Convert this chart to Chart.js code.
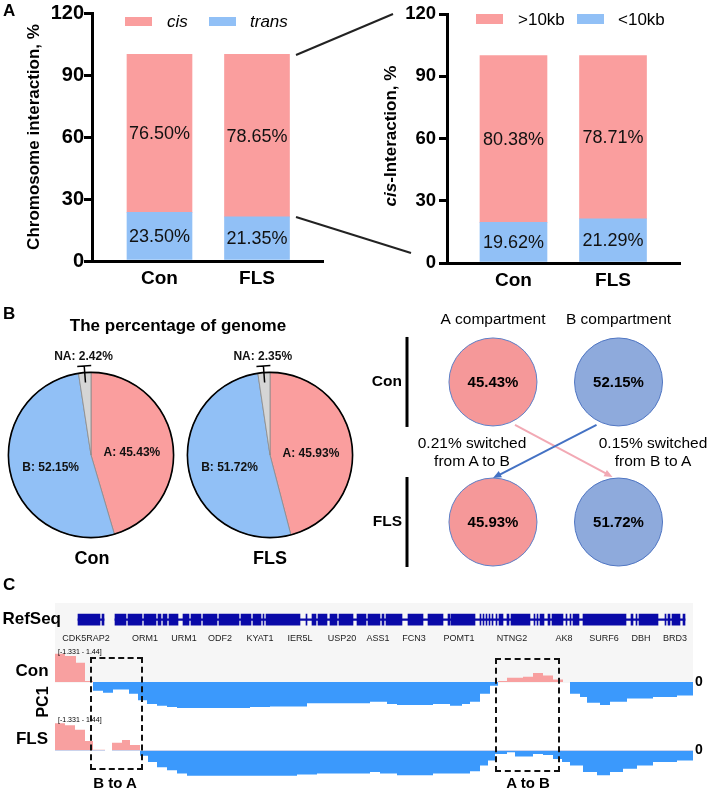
<!DOCTYPE html>
<html>
<head>
<meta charset="utf-8">
<script src="https://cdn.jsdelivr.net/npm/chart.js@4.4.0/dist/chart.umd.min.js"></script>
<style>
  body { margin: 0; background: #fff; }
  #fig { position: relative; width: 708px; height: 789px; overflow: hidden; font-family: 'Liberation Sans', Arial, sans-serif; color: #000; }
  #fig canvas { position: absolute; }
  .txt { position: absolute; white-space: nowrap; line-height: 1; }
  .c { transform: translate(-50%, -50%); }
  .rot { transform: translate(-50%, -50%) rotate(-90deg); }
  .b { font-weight: bold; }
  .sw { position: absolute; }
  .box { position: absolute; border: 2px dashed #111; box-sizing: border-box; }
  #trackBg { position: absolute; left: 55px; top: 603px; width: 638px; height: 80px; background: #f6f6f6; }
  #zoomLines { position: absolute; left: 0; top: 0; pointer-events: none; }
</style>
</head>
<body>
<div id="fig">
  <div id="trackBg"></div>

  <canvas id="barLeft" width="340" height="290" style="left:0px;top:0px"></canvas>
  <canvas id="barRight" width="368" height="290" style="left:340px;top:0px"></canvas>
  <canvas id="pieCon" width="170" height="200" style="left:6px;top:340px"></canvas>
  <canvas id="pieFls" width="170" height="200" style="left:185px;top:340px"></canvas>
  <canvas id="compartments" width="400" height="342" style="left:360px;top:284px"></canvas>
  <canvas id="genes" width="708" height="50" style="left:0px;top:600px"></canvas>
  <canvas id="pcCon" width="708" height="80" style="left:0px;top:640px"></canvas>
  <canvas id="pcFls" width="708" height="81" style="left:0px;top:708px"></canvas>

  <svg id="zoomLines" width="708" height="789">
    <line x1="296" y1="55" x2="393" y2="14" stroke="#222" stroke-width="2"/>
    <line x1="296" y1="217" x2="411" y2="253" stroke="#222" stroke-width="2"/>
  </svg>

  <!-- Panel A -->
  <div class="txt b" style="left:3px;top:2px;font-size:17px">A</div>
  <div class="sw" style="left:125px;top:17px;width:27px;height:9px;background:#FA9E9E"></div>
  <div class="txt" style="left:167px;top:13px;font-size:17px;font-style:italic">cis</div>
  <div class="sw" style="left:209px;top:17px;width:27px;height:9px;background:#91C0F6"></div>
  <div class="txt" style="left:250px;top:13px;font-size:17px;font-style:italic">trans</div>
  <div class="sw" style="left:476px;top:14px;width:27px;height:10px;background:#FA9E9E"></div>
  <div class="txt" style="left:518px;top:11px;font-size:17px">&gt;10kb</div>
  <div class="sw" style="left:577px;top:14px;width:27px;height:10px;background:#91C0F6"></div>
  <div class="txt" style="left:618px;top:11px;font-size:17px">&lt;10kb</div>
  <div class="txt b rot" style="left:390px;top:136px;font-size:17px"><i>cis</i>-Interaction, %</div>

  <!-- Panel B -->
  <div class="txt b" style="left:3px;top:305px;font-size:17px">B</div>
  <div class="txt b c" style="left:178px;top:325px;font-size:17px">The percentage of genome</div>
  <div class="txt b c" style="left:92px;top:558px;font-size:18px">Con</div>
  <div class="txt b c" style="left:270px;top:558px;font-size:18px">FLS</div>
  <div class="txt c" style="left:472px;top:443px;font-size:15.5px">0.21% switched</div>
  <div class="txt c" style="left:472px;top:461px;font-size:15.5px">from A to B</div>
  <div class="txt c" style="left:653px;top:443px;font-size:15.5px">0.15% switched</div>
  <div class="txt c" style="left:653px;top:461px;font-size:15.5px">from B to A</div>

  <!-- Panel C -->
  <div class="txt b" style="left:3px;top:576px;font-size:17px">C</div>
  <div class="txt b c" style="left:32px;top:670px;font-size:17px">Con</div>
  <div class="txt b c" style="left:32px;top:738px;font-size:17px">FLS</div>
  <div class="txt b rot" style="left:43px;top:702px;font-size:16px">PC1</div>
  <div class="txt" style="left:58px;top:648px;font-size:7px">[-1.331 - 1.44]</div>
  <div class="txt" style="left:58px;top:716px;font-size:7px">[-1.331 - 1.44]</div>
  <div class="box" style="left:90px;top:657px;width:53px;height:113px"></div>
  <div class="box" style="left:495px;top:658px;width:65px;height:114px"></div>
  <div class="txt b c" style="left:115px;top:782px;font-size:15px">B to A</div>
  <div class="txt b c" style="left:528px;top:782px;font-size:15px">A to B</div>
</div>

<script>
// Panel A
var groups = ["Con", "FLS"];
var cisPct = [76.50, 78.65];
var transPct = [23.50, 21.35];
var above10kbPct = [80.38, 78.71];
var below10kbPct = [19.62, 21.29];
var yTicksA = [0, 30, 60, 90, 120];

// Panel B
var pieNames = ["A", "B", "NA"];
var pieCon = [45.43, 52.15, 2.42];
var pieFls = [45.93, 51.72, 2.35];
var compColumns = ["A compartment", "B compartment"];
var compRows = ["Con", "FLS"];
var compA = [45.43, 45.93];
var compB = [52.15, 51.72];

// Panel C: PC1 bins (start of bin, value), last entry closes the track
var conPos = [0, 10, 21, 30, 38, 48, 58, 74, 83, 92, 102, 112, 122, 195, 215, 252, 315, 332, 342, 378, 395, 407, 415, 425, 435, 443, 452, 468, 478, 488, 498, 508, 515, 525, 532, 545, 555, 572, 598, 622, 638];
var conPC1 = [1.36, 1.25, 0.92, 0.04, -0.42, -0.52, -0.37, -0.57, -0.88, -1.06, -1.15, -1.21, -1.26, -1.21, -1.18, -1.03, -0.95, -1.06, -1.11, -1.06, -1.15, -1.06, -0.95, -0.57, -0.18, 0.05, 0.20, 0.25, 0.43, 0.31, 0.12, 0, -0.57, -0.72, -1.00, -1.11, -0.95, -0.80, -0.72, -0.65, -0.65];
var flsPos = [0, 10, 20, 30, 38, 50, 57, 67, 75, 85, 93, 102, 112, 122, 132, 242, 262, 315, 325, 342, 378, 415, 425, 433, 440, 452, 460, 478, 488, 498, 507, 515, 528, 542, 555, 568, 582, 598, 622, 638];
var flsPC1 = [1.29, 1.19, 0.98, 0.45, 0.03, 0, 0.37, 0.49, 0.26, -0.25, -0.55, -0.79, -0.94, -1.09, -1.20, -1.14, -1.09, -1.02, -1.09, -1.17, -1.09, -0.98, -0.71, -0.48, -0.17, -0.09, -0.29, -0.17, -0.22, -0.40, -0.55, -0.71, -1.02, -1.17, -1.02, -0.86, -0.71, -0.55, -0.48, -0.48];
var pcRange = [-1.331, 1.44];

var geneNames = ["CDK5RAP2", "ORM1", "URM1", "ODF2", "KYAT1", "IER5L", "USP20", "ASS1", "FCN3", "POMT1", "NTNG2", "AK8", "SURF6", "DBH", "BRD3"];
var geneCenters = [31, 90, 129, 165, 205, 245, 287, 323, 359, 404, 457, 509, 549, 586, 620];
var refseqLines = [[23, 49], [60, 630]];
var refseqBlocks = [[23, 45], [47, 49], [60, 71], [73, 87], [89, 101], [103, 106], [108, 112], [114, 123], [128, 134], [136, 146],
  [148, 162], [164, 184], [186, 196], [198, 206], [208, 209], [211, 245], [251, 252], [257, 261], [263, 272], [275, 282],
  [284, 298], [302, 311], [313, 325], [327, 329], [331, 347], [353, 368], [373, 388], [393, 395], [396, 420], [425, 426],
  [428, 429], [431, 432], [434, 435], [437, 438], [441, 442], [444, 448], [452, 454], [456, 475], [479, 480], [482, 483],
  [485, 489], [493, 495], [497, 508], [511, 512], [515, 516], [518, 524], [528, 571], [576, 578], [581, 582], [584, 603],
  [610, 611], [613, 615], [617, 625], [628, 630]];

var pink = "#FA9E9E";
var blue = "#91C0F6";
var FONT = "'Liberation Sans', Arial, sans-serif";

Chart.defaults.font.family = FONT;
Chart.defaults.color = "#000";

window.addEventListener("DOMContentLoaded", function () {
  makeStackedBars("barLeft", transPct, cisPct, {
    top: 13, right: 17, yWidth: 92, xHeight: 29, barWidth: 65, tickFont: 20, tickPad: 0,
    xMin: 0.3077, xMax: 2.677, yTitle: "Chromosome interaction, %"
  });
  makeStackedBars("barRight", below10kbPct, above10kbPct, {
    top: 10, right: 28, yWidth: 107, xHeight: 27, barWidth: 67, tickFont: 18.5, tickPad: 3,
    xMin: 0.332, xMax: 2.673, yTitle: null
  });
  makePie("pieCon", pieCon);
  makePie("pieFls", pieFls);
  makeCompartments();
  makeGeneTrack();
  makePcTrack("pcCon", conPos, conPC1, 8);
  makePcTrack("pcFls", flsPos, flsPC1, 9);
});

// values written into the middle of each bar segment
var barLabels = {
  id: "barLabels",
  afterDatasetsDraw: function (chart) {
    var ctx = chart.ctx;
    ctx.save();
    ctx.font = "18px " + FONT;
    ctx.fillStyle = "#111";
    ctx.textAlign = "center";
    ctx.textBaseline = "middle";
    chart.data.datasets.forEach(function (ds, di) {
      chart.getDatasetMeta(di).data.forEach(function (bar, i) {
        ctx.fillText(ds.pct[i].toFixed(2) + "%", bar.x, (bar.y + bar.base) / 2 + 1);
      });
    });
    ctx.restore();
  }
};

function makeStackedBars(canvasId, lowVals, highVals, lay) {
  var ctx = document.getElementById(canvasId).getContext("2d");
  return new Chart(ctx, {
    type: "bar",
    data: {
      datasets: [
        {
          pct: lowVals,
          data: groups.map(function (g, i) { return { x: i + 1, y: [0, lowVals[i]] }; }),
          backgroundColor: blue,
          barThickness: lay.barWidth,
          grouped: false,
        },
        {
          pct: highVals,
          data: groups.map(function (g, i) { return { x: i + 1, y: [lowVals[i], lowVals[i] + highVals[i]] }; }),
          backgroundColor: pink,
          barThickness: lay.barWidth,
          grouped: false,
        },
      ],
    },
    options: {
      responsive: false,
      animation: false,
      layout: { padding: { top: lay.top, right: lay.right, left: 0, bottom: 0 } },
      plugins: { legend: { display: false }, tooltip: { enabled: false } },
      scales: {
        x: {
          type: "linear",
          offset: false,
          min: lay.xMin,
          max: lay.xMax,
          afterBuildTicks: function (s) { s.ticks = groups.map(function (g, i) { return { value: i + 1 }; }); },
          afterFit: function (s) { s.height = lay.xHeight; },
          grid: { display: true, offset: false, drawOnChartArea: false, drawTicks: false },
          border: { display: true, color: "#000", width: 3 },
          ticks: {
            callback: function (v, i) { return groups[i]; },
            font: { size: 19, weight: "bold" },
            color: "#000",
            padding: 6,
            autoSkip: false,
            maxRotation: 0,
          },
        },
        y: {
          min: 0,
          max: 120,
          afterBuildTicks: function (s) { s.ticks = yTicksA.map(function (v) { return { value: v }; }); },
          afterFit: function (s) { s.width = lay.yWidth; },
          grid: { drawOnChartArea: false, drawTicks: true, tickLength: 8, tickWidth: 3, tickColor: "#000", lineWidth: 3, color: "#000" },
          border: { display: true, color: "#000", width: 3 },
          ticks: { font: { size: lay.tickFont, weight: "bold" }, color: "#000", padding: lay.tickPad },
          title: lay.yTitle ? {
            display: true,
            text: lay.yTitle,
            font: { size: 17, weight: "bold" },
            color: "#000",
            padding: { top: 24, bottom: 0 },
          } : { display: false },
        },
      },
    },
    plugins: [barLabels],
  });
}

// black outline, slice labels and the NA call-out
var pieDeko = {
  id: "pieDeko",
  afterDatasetsDraw: function (chart) {
    var ctx = chart.ctx;
    var arcs = chart.getDatasetMeta(0).data;
    var vals = chart.data.datasets[0].data;
    var names = chart.data.labels;
    var a0 = arcs[0];
    ctx.save();
    ctx.beginPath();
    ctx.arc(a0.x, a0.y, a0.outerRadius, 0, 2 * Math.PI);
    ctx.lineWidth = 1.6;
    ctx.strokeStyle = "#000";
    ctx.stroke();

    ctx.font = "bold 12px " + FONT;
    ctx.fillStyle = "#111";
    ctx.textAlign = "center";
    ctx.textBaseline = "middle";
    arcs.forEach(function (arc, i) {
      var txt = names[i] + ": " + vals[i].toFixed(2) + "%";
      if (i < 2) {
        var p = arc.getCenterPoint();
        ctx.fillText(txt, p.x, p.y + 4);
      } else {
        var mid = (arc.startAngle + arc.endAngle) / 2;
        var c = Math.cos(mid), s = Math.sin(mid), r = arc.outerRadius;
        var x1 = arc.x + c * r * 0.88, y1 = arc.y + s * r * 0.88;
        var x2 = arc.x + c * r * 1.08, y2 = arc.y + s * r * 1.08;
        ctx.beginPath();
        ctx.moveTo(x1, y1);
        ctx.lineTo(x2, y2);
        ctx.moveTo(x2 + s * 7, y2 - c * 7);
        ctx.lineTo(x2 - s * 7, y2 + c * 7);
        ctx.lineWidth = 1.5;
        ctx.stroke();
        ctx.fillText(txt, arc.x + c * r * 1.19, arc.y + s * r * 1.19);
      }
    });
    ctx.restore();
  }
};

function makePie(canvasId, parts) {
  var ctx = document.getElementById(canvasId).getContext("2d");
  return new Chart(ctx, {
    type: "pie",
    data: {
      labels: pieNames,
      datasets: [{
        data: parts,
        backgroundColor: [pink, blue, "#D5D5D5"],
        borderColor: "#8a8a8a",
        borderWidth: 0.8,
      }],
    },
    options: {
      responsive: false,
      animation: false,
      layout: { padding: { top: 32, left: 2, right: 2, bottom: 2 } },
      plugins: { legend: { display: false }, tooltip: { enabled: false } },
    },
    plugins: [pieDeko],
  });
}

function drawArrow(ctx, x1, y1, x2, y2, color) {
  var ang = Math.atan2(y2 - y1, x2 - x1);
  ctx.strokeStyle = color;
  ctx.fillStyle = color;
  ctx.lineWidth = 2;
  ctx.beginPath();
  ctx.moveTo(x1, y1);
  ctx.lineTo(x2 - Math.cos(ang) * 6, y2 - Math.sin(ang) * 6);
  ctx.stroke();
  ctx.beginPath();
  ctx.moveTo(x2, y2);
  ctx.lineTo(x2 - 9 * Math.cos(ang - 0.4), y2 - 9 * Math.sin(ang - 0.4));
  ctx.lineTo(x2 - 9 * Math.cos(ang + 0.4), y2 - 9 * Math.sin(ang + 0.4));
  ctx.closePath();
  ctx.fill();
}

var compDeko = {
  id: "compDeko",
  afterDatasetsDraw: function (chart) {
    var ctx = chart.ctx;
    var area = chart.chartArea;
    var pts = [chart.getDatasetMeta(0).data, chart.getDatasetMeta(1).data];
    ctx.save();
    // row brackets
    ctx.strokeStyle = "#000";
    ctx.lineWidth = 3;
    pts[0].forEach(function (p) {
      ctx.beginPath();
      ctx.moveTo(area.left - 3, p.y - 45);
      ctx.lineTo(area.left - 3, p.y + 45);
      ctx.stroke();
    });
    // switching arrows
    drawArrow(ctx, pts[0][0].x + 22, pts[0][0].y + 43, pts[1][1].x - 6, pts[1][1].y - 45, "#F2A9B4");
    drawArrow(ctx, pts[1][0].x - 22, pts[1][0].y + 43, pts[0][1].x, pts[0][1].y - 44, "#4472C4");
    // percentages
    ctx.font = "bold 15px " + FONT;
    ctx.fillStyle = "#000";
    ctx.textAlign = "center";
    ctx.textBaseline = "middle";
    [compA, compB].forEach(function (vals, di) {
      pts[di].forEach(function (p, i) {
        ctx.fillText(vals[i].toFixed(2) + "%", p.x, p.y + 1);
      });
    });
    ctx.restore();
  }
};

function makeCompartments() {
  var ctx = document.getElementById("compartments").getContext("2d");
  return new Chart(ctx, {
    type: "scatter",
    data: {
      datasets: [
        {
          data: compRows.map(function (r, i) { return { x: 1, y: i + 1 }; }),
          backgroundColor: "#F59899",
          borderColor: "#5C80C8",
          borderWidth: 1,
          pointRadius: 44,
        },
        {
          data: compRows.map(function (r, i) { return { x: 2, y: i + 1 }; }),
          backgroundColor: "#8EAADC",
          borderColor: "#4F75C2",
          borderWidth: 1,
          pointRadius: 44,
        },
      ],
    },
    options: {
      responsive: false,
      animation: false,
      clip: false,
      layout: { padding: { top: 0, left: 0, right: 60, bottom: 46 } },
      plugins: { legend: { display: false }, tooltip: { enabled: false } },
      scales: {
        x: {
          type: "linear",
          position: "top",
          min: 0.339,
          max: 2.649,
          afterBuildTicks: function (s) { s.ticks = compColumns.map(function (c, i) { return { value: i + 1 }; }); },
          afterFit: function (s) { s.height = 46; },
          grid: { display: false, drawTicks: false },
          border: { display: false },
          ticks: {
            callback: function (v, i) { return compColumns[i]; },
            font: { size: 15.5 },
            color: "#000",
            padding: 1,
            autoSkip: false,
            maxRotation: 0,
          },
        },
        y: {
          type: "linear",
          reverse: true,
          min: 0.629,
          max: 2.414,
          afterBuildTicks: function (s) { s.ticks = compRows.map(function (r, i) { return { value: i + 1 }; }); },
          afterFit: function (s) { s.width = 50; },
          grid: { display: false, drawTicks: false },
          border: { display: false },
          ticks: {
            callback: function (v, i) { return compRows[i]; },
            font: { size: 15.5, weight: "bold" },
            color: "#000",
            padding: 8,
          },
        },
      },
    },
    plugins: [compDeko],
  });
}

function makeGeneTrack() {
  var ctx = document.getElementById("genes").getContext("2d");
  return new Chart(ctx, {
    type: "bar",
    data: {
      labels: ["RefSeq"],
      datasets: [
        {
          data: refseqLines.map(function (seg) { return { x: seg, y: "RefSeq" }; }),
          backgroundColor: "#0A0AA8",
          barThickness: 1.5,
          grouped: false,
        },
        {
          data: refseqBlocks.map(function (seg) { return { x: seg, y: "RefSeq" }; }),
          backgroundColor: "#0A0AA8",
          barThickness: 11,
          grouped: false,
        },
      ],
    },
    options: {
      indexAxis: "y",
      responsive: false,
      animation: false,
      layout: { padding: { top: 8, left: 0, right: 15, bottom: 0 } },
      plugins: { legend: { display: false }, tooltip: { enabled: false } },
      scales: {
        x: {
          type: "linear",
          min: 7,
          max: 638,
          afterBuildTicks: function (s) { s.ticks = geneCenters.map(function (v) { return { value: v }; }); },
          afterFit: function (s) { s.height = 22; },
          grid: { display: false, drawTicks: false },
          border: { display: false },
          ticks: {
            callback: function (v, i) { return geneNames[i]; },
            font: { size: 9 },
            color: "#222",
            padding: 5,
            autoSkip: false,
            maxRotation: 0,
          },
        },
        y: {
          afterFit: function (s) { s.width = 62; },
          grid: { display: false, drawTicks: false },
          border: { display: false },
          ticks: { font: { size: 17, weight: "bold" }, color: "#000", padding: 1 },
        },
      },
    },
  });
}

function makePcTrack(canvasId, pos, vals, padBottom) {
  var ctx = document.getElementById(canvasId).getContext("2d");
  return new Chart(ctx, {
    type: "line",
    data: {
      datasets: [{
        data: pos.map(function (x, i) { return { x: x, y: vals[i] }; }),
        stepped: "before",
        borderColor: "rgba(0,0,0,0)",
        borderWidth: 0,
        pointRadius: 0,
        fill: { target: "origin", above: "#F8A0A0", below: "#3B99FC" },
      }],
    },
    options: {
      responsive: false,
      animation: false,
      layout: { padding: { top: 12, left: 55, right: 0, bottom: padBottom } },
      plugins: { legend: { display: false }, tooltip: { enabled: false } },
      scales: {
        x: { type: "linear", min: 0, max: 638, display: false },
        y: {
          position: "right",
          min: pcRange[0],
          max: pcRange[1],
          afterBuildTicks: function (s) { s.ticks = [{ value: 0 }]; },
          afterFit: function (s) { s.width = 15; },
          grid: { display: false, drawTicks: false },
          border: { display: false },
          ticks: { font: { size: 14, weight: "bold" }, color: "#000", padding: 2 },
        },
      },
    },
  });
}
</script>
</body>
</html>
